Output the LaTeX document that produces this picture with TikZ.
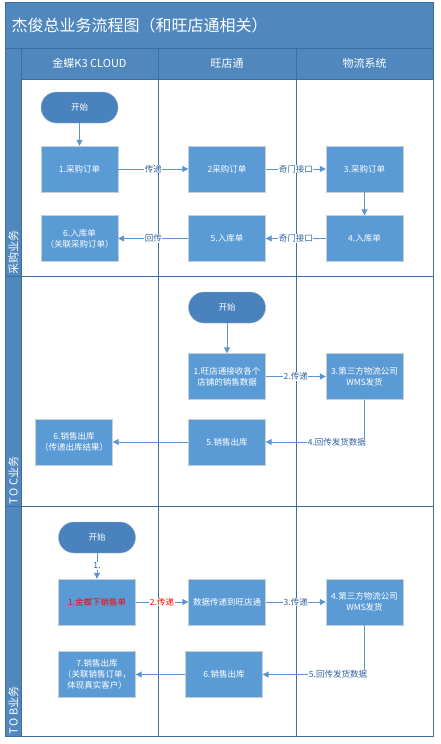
\documentclass[tikz,border=0pt]{standalone}
\usepackage{fontspec}
\setmainfont{Noto Sans CJK SC}
\usetikzlibrary{arrows.meta}
\definecolor{lanebar}{RGB}{80,136,190}
\definecolor{laneline}{RGB}{62,110,160}
\definecolor{boxfill}{RGB}{91,155,213}
\definecolor{boxline}{RGB}{200,206,214}
\definecolor{startfill}{RGB}{74,130,189}
\definecolor{flowline}{RGB}{91,150,210}
\definecolor{flowtext}{RGB}{48,98,158}

\begin{document}
\begin{tikzpicture}[x=1pt, y=-1pt,
  stepbox/.style={draw=boxline, fill=boxfill, text=white, minimum width=77pt, minimum height=46pt,
    align=center, inner sep=1pt, font=\fontsize{8.5}{11}\selectfont},
  startbox/.style={draw=boxline!60!startfill, fill=startfill, text=white, rounded corners=15.5pt,
    minimum width=77pt, minimum height=31pt, font=\fontsize{8.5}{11}\selectfont},
  flow/.style={draw=flowline, line width=1pt, -{Triangle[length=6pt,width=6pt]}},
  flowlabel/.style={fill=white, text=flowtext, inner sep=0.5pt, font=\fontsize{8.5}{10}\selectfont},
  lanelabel/.style={rotate=90, anchor=west, text=white, inner sep=0pt, font=\fontsize{11}{12}\selectfont},
  colhead/.style={text=white, font=\fontsize{11}{12}\selectfont}]
          \useasboundingbox (0,0) rectangle (440,744);
          \fill[lanebar] (5,2) rectangle (433,79);
          \fill[lanebar] (5,48) rectangle (21,736);
          \draw[laneline, line width=1pt] (5,2) rectangle (433,736);
          \draw[laneline, line width=1pt] (5,48) -- (433,48);
          \draw[laneline, line width=1pt] (21,79) -- (433,79);
          \draw[laneline, line width=1pt] (5,276) -- (433,276);
          \draw[laneline, line width=1pt] (5,506) -- (433,506);
          \draw[laneline, line width=1pt] (21,48) -- (21,736);
          \draw[laneline, line width=1pt] (158,48) -- (158,736);
          \draw[laneline, line width=1pt] (296,48) -- (296,736);
          \node[anchor=west, text=white, font=\fontsize{16}{18}\selectfont] (title) at (8,25) {杰俊总业务流程图（和旺店通相关）};
          \node[colhead] (col1) at (89.5,63.5) {金蝶K3 CLOUD};
          \node[colhead] (col2) at (227,63.5) {旺店通};
          \node[colhead] (col3) at (364.5,63.5) {物流系统};
          \node[lanelabel] (lane1) at (13.5,275) {采购业务};
          \node[lanelabel] (lane2) at (13.5,505) {T\hspace{2pt}O C业务};
          \node[lanelabel] (lane3) at (13.5,735) {T\hspace{2pt}O B业务};

          \node[startbox] (start1) at (79.5,107.5) {开始};
          \node[stepbox] (a1) at (79.5,169) {1.采购订单};
          \node[stepbox] (a2) at (227,169) {2采购订单};
          \node[stepbox] (a3) at (364.5,169) {3.采购订单};
          \node[stepbox] (a4) at (364.5,238.5) {4.入库单};
          \node[stepbox] (a5) at (227,238.5) {5.入库单};
          \node[stepbox] (a6) at (79.5,238.5) {6.入库单\\（关联采购订单）};
          \draw[flow] (start1) -- (a1);
          \draw[flow] (a1) -- node[flowlabel] {传递} (a2);
          \draw[flow] (a2) -- node[flowlabel] {奇门接口} (a3);
          \draw[flow] (a3) -- (a4);
          \draw[flow] (a4) -- node[flowlabel] {奇门接口} (a5);
          \draw[flow] (a5) -- node[flowlabel] {回传} (a6);

          \node[startbox] (start2) at (227,307.5) {开始};
          \node[stepbox] (b1) at (227,376.5) {1.旺店通接收各个\\店铺的销售数据};
          \node[stepbox] (b3) at (364.5,376.5) {3.第三方物流公司\\WMS发货};
          \node[stepbox] (b5) at (227,442) {5.销售出库};
          \node[stepbox] (b6) at (74,442) {6.销售出库\\（传递出库结果）};
          \draw[flow] (start2) -- (b1);
          \draw[flow] (b1) -- node[flowlabel] {2.传递} (b3);
          \draw[flow] (b3) |- node[flowlabel, pos=0.64] {4.回传发货数据} (b5);
          \draw[flow] (b5) -- (b6);

          \node[startbox] (start3) at (97,537.5) {开始};
          \node[stepbox, text=red] (c1) at (97,602) {1.金蝶下销售单};
          \node[stepbox] (c2) at (227,602) {数据传递到旺店通};
          \node[stepbox] (c4) at (364.5,602) {4.第三方物流公司\\WMS发货};
          \node[stepbox] (c6) at (224,674.5) {6.销售出库};
          \node[stepbox] (c7) at (97,674.5) {7.销售出库\\（关联销售订单，\\体现真实客户）};
          \draw[flow] (start3) -- node[flowlabel] {1.} (c1);
          \draw[flow] (c1) -- node[flowlabel, text=red] {2.传递} (c2);
          \draw[flow] (c2) -- node[flowlabel] {3.传递} (c4);
          \draw[flow] (c4) |- node[flowlabel, pos=0.63] {5.回传发货数据} (c6);
          \draw[flow] (c6) -- (c7);
        \end{tikzpicture}
\end{document}
